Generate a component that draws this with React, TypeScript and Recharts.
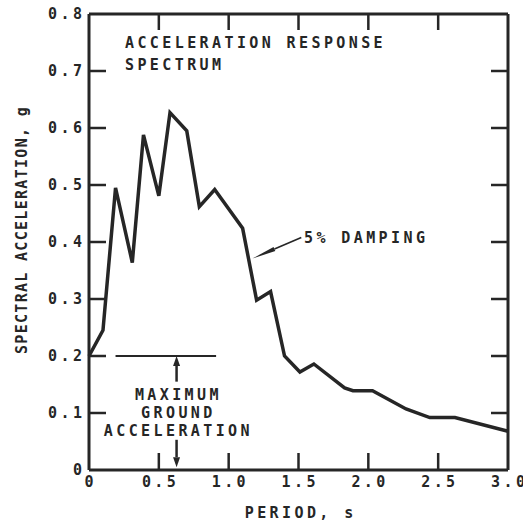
import React from 'react';
import { LineChart, Line, XAxis, YAxis, ReferenceLine } from 'recharts';

// values
const period = [0, 0.1, 0.19, 0.31, 0.39, 0.5, 0.58, 0.7, 0.79, 0.9, 1.1, 1.2, 1.3, 1.4, 1.51, 1.61, 1.83, 1.89, 2.03, 2.27, 2.44, 2.62, 3.0];
const spectralAccel = [0.2, 0.245, 0.495, 0.364, 0.588, 0.481, 0.627, 0.595, 0.462, 0.492, 0.424, 0.298, 0.313, 0.2, 0.172, 0.186, 0.144, 0.139, 0.139, 0.107, 0.092, 0.092, 0.068];

const xTicks = [0, 0.5, 1, 1.5, 2, 2.5, 3];
const xInnerTicks = [0.5, 1, 1.5, 2, 2.5];
const yTicks = [0, 0.1, 0.2, 0.3, 0.4, 0.5, 0.6, 0.7, 0.8];
const yInnerTicks = [0.1, 0.2, 0.3, 0.4, 0.5, 0.6, 0.7];

const maxGroundAccel = 0.2;
const groundLineSpan = [0.19, 0.91];
const groundArrowX = 0.627;
const dampingArrow = [{ x: 1.52, y: 0.408 }, { x: 1.17, y: 0.371 }];

const data = period.map((p, i) => ({ period: p, sa: spectralAccel[i] }));

const INK = '#262626';
const FONT = '"DejaVu Sans Mono", "Liberation Mono", monospace';
const LS = 3.4;

const fmt = (v: number) => (v === 0 ? '0' : v.toFixed(1));
const isInner = (list: number[], v: number) => list.some((t) => Math.abs(t - v) < 1e-6);

const BottomTick = ({ x, y, payload }: any) => (
  <g>
    {isInner(xInnerTicks, payload.value) && <line x1={x} y1={y} x2={x} y2={y - 17} stroke={INK} strokeWidth={2.5} />}
    <text x={x + LS / 2} y={y + 17} textAnchor="middle" fill={INK} fontFamily={FONT} fontSize={15} fontWeight="bold" letterSpacing={LS}>
      {fmt(payload.value)}
    </text>
  </g>
);

const LeftTick = ({ x, y, payload }: any) => (
  <g>
    {isInner(yInnerTicks, payload.value) && <line x1={x + 7} y1={y} x2={x + 24} y2={y} stroke={INK} strokeWidth={2.5} />}
    <text x={x + LS} y={y + 5.4} textAnchor="end" fill={INK} fontFamily={FONT} fontSize={15} fontWeight="bold" letterSpacing={LS}>
      {fmt(payload.value)}
    </text>
  </g>
);

const TopTick = ({ x, y }: any) => <line x1={x} y1={y} x2={x} y2={y + 16} stroke={INK} strokeWidth={2.5} />;
const RightTick = ({ x, y }: any) => <line x1={x} y1={y} x2={x - 17} y2={y} stroke={INK} strokeWidth={2.5} />;

const Arrow = ({ x1, y1, x2, y2, head = 10, half = 3.5, width = 2.5 }: any) => {
  const dx = x2 - x1;
  const dy = y2 - y1;
  const len = Math.sqrt(dx * dx + dy * dy) || 1;
  const ux = dx / len;
  const uy = dy / len;
  const bx = x2 - ux * head;
  const by = y2 - uy * head;
  const pts = `${x2},${y2} ${bx - uy * half},${by + ux * half} ${bx + uy * half},${by - ux * half}`;
  return (
    <g>
      <line x1={x1} y1={y1} x2={bx} y2={by} stroke={INK} strokeWidth={width} />
      <polygon points={pts} fill={INK} />
    </g>
  );
};

const Note = ({ x, y, text, center }: any) => (
  <div
    style={{
      position: 'absolute',
      left: x,
      top: y - 7.2,
      transform: center ? 'translateX(-50%)' : undefined,
      paddingLeft: center ? LS : 0,
      fontFamily: FONT,
      fontSize: 15,
      lineHeight: '15px',
      fontWeight: 'bold',
      letterSpacing: LS,
      color: INK,
      whiteSpace: 'pre',
    }}
  >
    {text}
  </div>
);

export default function App() {
  return (
    <div style={{ position: 'absolute', left: 0, top: 0, width: 523, height: 521, background: '#fff' }}>
      <LineChart width={523} height={521} data={data} margin={{ top: 13, right: 14, bottom: 0, left: 0 }}>
        <XAxis
          dataKey="period"
          type="number"
          domain={[0, 3]}
          ticks={xTicks}
          interval={0}
          height={51}
          tickSize={0}
          tickMargin={0}
          tick={<BottomTick />}
          axisLine={{ stroke: INK, strokeWidth: 3 }}
          tickLine={false}
        />
        <XAxis
          xAxisId="top"
          dataKey="period"
          orientation="top"
          type="number"
          domain={[0, 3]}
          ticks={xInnerTicks}
          interval={0}
          height={1}
          tickSize={0}
          tickMargin={0}
          tick={<TopTick />}
          axisLine={{ stroke: INK, strokeWidth: 3 }}
          tickLine={false}
        />
        <YAxis
          type="number"
          domain={[0, 0.8]}
          ticks={yTicks}
          interval={0}
          width={89}
          tickSize={0}
          tickMargin={7}
          tick={<LeftTick />}
          axisLine={{ stroke: INK, strokeWidth: 3 }}
          tickLine={false}
        />
        <YAxis
          yAxisId="right"
          orientation="right"
          type="number"
          domain={[0, 0.8]}
          ticks={yInnerTicks}
          interval={0}
          width={1}
          tickSize={0}
          tickMargin={0}
          tick={<RightTick />}
          axisLine={{ stroke: INK, strokeWidth: 3 }}
          tickLine={false}
        />
        <ReferenceLine
          segment={[{ x: groundLineSpan[0], y: maxGroundAccel }, { x: groundLineSpan[1], y: maxGroundAccel }]}
          stroke={INK}
          strokeWidth={2}
        />
        <ReferenceLine
          segment={[{ x: groundArrowX, y: 0.155 }, { x: groundArrowX, y: maxGroundAccel }]}
          shape={(p: any) => <Arrow {...p} />}
        />
        <ReferenceLine
          segment={[{ x: groundArrowX, y: 0.053 }, { x: groundArrowX, y: 0.005 }]}
          shape={(p: any) => <Arrow {...p} />}
        />
        <ReferenceLine
          segment={dampingArrow}
          shape={(p: any) => <Arrow {...p} head={24} half={2.2} width={1.6} />}
        />
        {/* invisible copy so the frame axes on top/right get a series */}
        <Line
          xAxisId="top"
          yAxisId="right"
          type="linear"
          dataKey="sa"
          stroke="none"
          dot={false}
          activeDot={false}
          isAnimationActive={false}
        />
        <Line
          type="linear"
          dataKey="sa"
          stroke={INK}
          strokeWidth={3.5}
          strokeLinejoin="miter"
          dot={false}
          activeDot={false}
          isAnimationActive={false}
        />
      </LineChart>

      <Note x={125} y={43.5} text="ACCELERATION RESPONSE" />
      <Note x={125} y={65.5} text="SPECTRUM" />
      <Note x={304} y={237.7} text="5% DAMPING" />
      <Note x={176.7} y={395} text="MAXIMUM" center />
      <Note x={176.7} y={412.7} text="GROUND" center />
      <Note x={176.7} y={430.7} text="ACCELERATION" center />
      <Note x={299} y={512.7} text="PERIOD, s" center />
      <div
        style={{
          position: 'absolute',
          left: 21.7,
          top: 230,
          transform: 'translate(-50%, -50%) rotate(-90deg)',
          fontFamily: FONT,
          fontSize: 15,
          lineHeight: '15px',
          fontWeight: 'bold',
          letterSpacing: 1.3,
          color: INK,
          whiteSpace: 'pre',
        }}
      >
        SPECTRAL ACCELERATION, g
      </div>
    </div>
  );
}
